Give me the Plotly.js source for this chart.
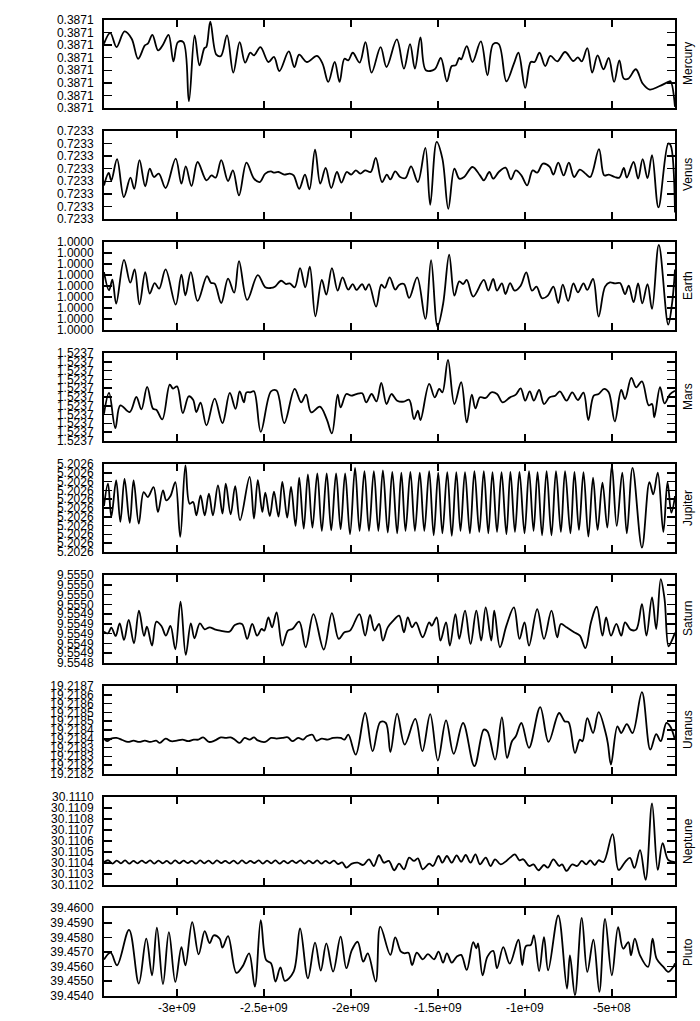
<!DOCTYPE html>
<html>
<head>
<meta charset="utf-8">
<script src="https://cdn.plot.ly/plotly-3.0.1.min.js"></script>
<style>html,body{margin:0;padding:0;background:#fff;}#chart{width:700px;height:1021px;}</style>
</head>
<body>
<div id="chart"></div>
<script>
// Time in Myr (negative = past); deviations of semi-major axis from a base value, in the unit given per planet.
const MERCURY = [[-3419,5.12],[-3383,5.99],[-3347,4.85],[-3301,6.10],[-3260,5.52],[-3223,3.92],[-3184,4.99],[-3167,5.12],[-3141,5.83],[-3108,4.59],[-3080,5.04],[-3048,5.83],[-3020,3.71],[-2994,5.25],[-2963,5.25],[-2931,0.53],[-2898,5.78],[-2870,3.39],[-2842,4.77],[-2831,4.85],[-2808,6.89],[-2773,4.24],[-2747,4.14],[-2712,5.78],[-2676,2.81],[-2639,5.25],[-2608,3.61],[-2578,4.40],[-2557,4.19],[-2520,4.85],[-2474,3.66],[-2442,4.06],[-2411,2.94],[-2357,4.51],[-2325,3.26],[-2297,4.24],[-2253,3.66],[-2195,4.14],[-2163,3.53],[-2130,2.07],[-2093,3.66],[-2065,2.07],[-2037,3.92],[-2015,3.79],[-1989,4.40],[-1950,3.61],[-1916,5.25],[-1881,2.81],[-1829,4.85],[-1795,3.26],[-1736,5.46],[-1695,3.13],[-1660,5.09],[-1632,3.13],[-1600,5.62],[-1569,3.00],[-1518,3.08],[-1483,3.98],[-1448,2.12],[-1420,3.34],[-1398,3.39],[-1377,3.98],[-1366,3.87],[-1334,4.93],[-1301,3.66],[-1253,5.30],[-1215,2.60],[-1182,5.09],[-1150,5.09],[-1106,2.12],[-1063,3.53],[-1037,4.40],[-998,1.59],[-966,3.66],[-944,3.66],[-916,4.40],[-883,3.34],[-853,4.14],[-814,3.71],[-769,4.46],[-721,3.74],[-695,4.03],[-673,3.71],[-641,4.77],[-613,2.81],[-582,4.19],[-548,3.08],[-518,3.98],[-487,2.07],[-457,3.79],[-431,2.33],[-405,2.33],[-362,3.08],[-323,1.94],[-282,1.46],[-228,1.72],[-176,2.07],[-163,2.12],[-137,0.08]];

const VENUS = [[-3419,2.67],[-3392,3.66],[-3377,3.07],[-3344,4.76],[-3305,1.74],[-3267,3.29],[-3245,2.40],[-3215,4.68],[-3182,2.59],[-3156,4.01],[-3132,3.34],[-3104,3.61],[-3065,2.46],[-3007,4.81],[-2974,2.81],[-2949,4.19],[-2916,2.62],[-2881,4.54],[-2830,3.07],[-2801,3.47],[-2777,3.29],[-2745,4.68],[-2706,3.02],[-2678,3.87],[-2643,1.87],[-2600,4.49],[-2557,3.21],[-2524,2.94],[-2492,3.61],[-2459,3.79],[-2444,3.69],[-2416,3.74],[-2383,3.53],[-2351,3.61],[-2329,3.47],[-2297,2.40],[-2264,3.53],[-2238,2.35],[-2206,5.53],[-2176,2.81],[-2145,4.06],[-2113,2.46],[-2080,3.74],[-2054,2.89],[-2024,3.74],[-1998,3.53],[-1972,3.87],[-1946,3.61],[-1918,3.87],[-1886,3.74],[-1857,4.86],[-1821,2.94],[-1793,3.53],[-1773,3.15],[-1745,3.79],[-1717,3.34],[-1686,3.26],[-1654,4.19],[-1615,2.94],[-1572,5.66],[-1544,1.12],[-1507,6.14],[-1474,4.81],[-1440,0.80],[-1405,4.01],[-1377,3.21],[-1349,3.34],[-1301,4.14],[-1258,3.47],[-1236,3.07],[-1204,3.74],[-1182,3.21],[-1150,3.74],[-1111,4.09],[-1080,3.15],[-1052,3.87],[-1020,3.47],[-987,2.67],[-955,3.87],[-929,3.69],[-896,4.41],[-857,4.14],[-836,3.53],[-808,4.49],[-777,3.47],[-747,4.49],[-717,3.34],[-684,3.93],[-652,3.61],[-624,3.34],[-574,5.56],[-544,3.47],[-518,3.53],[-483,3.34],[-457,3.29],[-431,4.06],[-414,3.29],[-375,4.54],[-349,3.21],[-323,4.76],[-295,3.26],[-269,5.08],[-232,0.91],[-176,6.01],[-163,5.9],[-137,0.5]];

const EARTH = [[-3419,5.27],[-3390,3.61],[-3371,4.58],[-3349,2.39],[-3304,6.39],[-3268,4.30],[-3243,5.52],[-3215,2.33],[-3182,5.27],[-3156,3.30],[-3128,4.27],[-3102,3.76],[-3065,5.52],[-3007,2.30],[-2974,5.03],[-2951,3.15],[-2920,5.27],[-2881,2.64],[-2827,4.91],[-2805,4.30],[-2783,4.21],[-2745,2.45],[-2706,4.67],[-2671,3.39],[-2643,6.27],[-2596,2.73],[-2535,5.00],[-2492,3.88],[-2459,3.82],[-2437,3.94],[-2401,4.48],[-2373,4.18],[-2351,4.24],[-2323,3.88],[-2292,5.64],[-2262,3.88],[-2236,5.76],[-2204,1.24],[-2167,4.55],[-2141,3.21],[-2109,5.64],[-2076,3.58],[-2048,4.79],[-2015,3.67],[-1989,4.18],[-1968,3.64],[-1935,4.18],[-1916,3.64],[-1896,4.18],[-1855,2.12],[-1825,4.12],[-1805,3.82],[-1777,4.79],[-1745,3.67],[-1723,4.09],[-1695,4.18],[-1665,2.91],[-1619,4.79],[-1572,1.00],[-1539,6.36],[-1502,0.30],[-1470,2.36],[-1435,6.85],[-1405,3.12],[-1377,4.42],[-1355,4.18],[-1334,4.55],[-1297,3.03],[-1236,4.55],[-1210,3.58],[-1182,4.64],[-1160,3.58],[-1132,4.24],[-1111,3.27],[-1085,4.27],[-1059,3.58],[-1024,4.03],[-992,5.24],[-959,3.58],[-933,3.94],[-901,2.88],[-868,3.12],[-836,3.94],[-808,2.45],[-782,4.12],[-751,2.64],[-721,4.24],[-695,3.42],[-663,4.24],[-641,3.64],[-608,4.64],[-576,1.21],[-539,3.94],[-511,4.33],[-483,4.24],[-453,4.27],[-424,3.27],[-403,4.03],[-375,2.52],[-349,4.24],[-325,2.42],[-295,4.18],[-269,1.91],[-230,7.76],[-176,0.48],[-154,2.4],[-137,5.5]];

const MARS = [[-3419,3.09],[-3390,5.46],[-3354,1.45],[-3325,4.05],[-3271,3.28],[-3233,5.00],[-3204,3.59],[-3171,6.15],[-3137,3.66],[-3118,3.55],[-3084,2.44],[-3041,6.41],[-3022,5.95],[-2999,6.22],[-2966,3.17],[-2932,5.08],[-2907,4.69],[-2888,3.28],[-2864,4.35],[-2830,1.76],[-2783,4.81],[-2738,2.02],[-2696,5.46],[-2663,3.66],[-2639,5.65],[-2615,4.39],[-2600,5.53],[-2578,5.53],[-2557,5.65],[-2518,1.03],[-2459,5.65],[-2427,5.73],[-2383,2.02],[-2323,5.92],[-2286,4.39],[-2258,5.27],[-2228,3.24],[-2178,3.89],[-2139,2.48],[-2109,0.84],[-2076,5.27],[-2059,3.82],[-2026,5.34],[-1998,5.15],[-1968,5.34],[-1935,5.42],[-1912,4.39],[-1881,5.34],[-1853,4.50],[-1825,6.60],[-1795,4.20],[-1767,5.34],[-1734,4.58],[-1695,4.47],[-1665,4.69],[-1637,2.48],[-1615,3.44],[-1600,2.37],[-1550,6.49],[-1518,4.96],[-1492,5.92],[-1474,5.53],[-1442,9.24],[-1405,4.20],[-1366,6.68],[-1334,2.10],[-1305,5.27],[-1284,3.70],[-1258,4.96],[-1225,4.89],[-1193,5.53],[-1160,5.34],[-1128,4.39],[-1085,4.96],[-1052,5.27],[-1024,5.99],[-998,4.58],[-972,5.65],[-948,4.58],[-918,5.80],[-890,4.20],[-857,4.96],[-825,5.15],[-799,5.65],[-760,4.58],[-728,5.53],[-695,4.66],[-663,5.50],[-635,2.37],[-604,5.15],[-576,5.34],[-544,5.92],[-518,5.53],[-483,2.21],[-446,5.80],[-424,4.77],[-388,7.18],[-360,6.11],[-327,6.79],[-288,4.05],[-269,4.20],[-256,2.67],[-223,6.11],[-197,4.27],[-165,5.34],[-137,5.7]];

const JUPITER = [[-3419,5.23],[-3396,7.77],[-3377,3.98],[-3349,8.14],[-3325,3.41],[-3301,8.33],[-3271,3.30],[-3249,8.14],[-3219,3.22],[-3191,6.82],[-3167,6.25],[-3134,7.39],[-3109,4.55],[-3080,7.01],[-3061,5.87],[-3037,6.36],[-3009,7.95],[-2981,1.70],[-2951,9.85],[-2927,5.49],[-2907,5.68],[-2888,4.17],[-2864,6.44],[-2840,4.17],[-2816,6.63],[-2793,4.17],[-2764,7.58],[-2738,4.36],[-2719,7.77],[-2691,4.28],[-2665,7.50],[-2637,3.60],[-2582,8.56],[-2557,3.79],[-2535,8.18],[-2509,4.55],[-2492,6.74],[-2466,4.09],[-2442,6.86],[-2416,4.02],[-2394,7.99],[-2366,3.90],[-2344,7.42],[-2318,2.95],[-2297,8.45],[-2271,2.65],[-2247,8.83],[-2221,2.77],[-2193,8.94],[-2167,2.39],[-2139,8.94],[-2113,2.46],[-2085,8.94],[-2059,2.58],[-2033,8.94],[-2005,2.01],[-1976,9.58],[-1950,2.39],[-1922,9.20],[-1896,2.39],[-1868,9.20],[-1842,2.39],[-1816,9.28],[-1788,2.20],[-1762,9.13],[-1734,2.12],[-1710,9.02],[-1686,2.39],[-1658,9.13],[-1632,2.39],[-1604,9.02],[-1578,2.39],[-1550,9.20],[-1524,1.89],[-1498,9.02],[-1474,2.12],[-1446,9.09],[-1420,1.82],[-1394,9.09],[-1370,2.39],[-1344,9.09],[-1316,2.12],[-1290,9.20],[-1262,2.27],[-1236,9.20],[-1210,2.12],[-1186,9.09],[-1160,2.27],[-1134,9.09],[-1106,2.01],[-1083,9.13],[-1057,2.27],[-1031,9.13],[-1002,2.12],[-976,9.20],[-950,2.39],[-927,9.09],[-901,1.89],[-875,9.20],[-847,1.89],[-821,9.20],[-793,2.27],[-769,9.20],[-738,2.12],[-715,9.13],[-689,2.50],[-663,9.09],[-635,1.74],[-608,8.45],[-582,2.50],[-554,7.88],[-526,2.77],[-500,9.85],[-472,2.95],[-440,9.02],[-414,2.12],[-381,9.58],[-327,0.49],[-284,7.95],[-262,6.55],[-236,9.02],[-204,2.27],[-180,7.95],[-158,4.47],[-137,6.36]];

const SATURN = [[-3419,6.41],[-3396,6.07],[-3377,7.23],[-3352,5.52],[-3329,8.11],[-3304,4.70],[-3277,8.79],[-3247,4.02],[-3218,10.70],[-3189,5.52],[-3172,7.43],[-3143,3.54],[-3118,8.45],[-3089,7.57],[-3063,5.59],[-3037,7.57],[-3009,2.79],[-2979,12.54],[-2949,1.64],[-2920,8.11],[-2899,5.04],[-2868,8.11],[-2840,6.88],[-2812,7.29],[-2783,6.88],[-2751,6.6],[-2697,6.41],[-2667,7.77],[-2626,7.98],[-2596,4.91],[-2567,7.98],[-2539,5.59],[-2513,6.95],[-2498,6.61],[-2474,9.34],[-2453,7.29],[-2427,10.36],[-2394,3.54],[-2362,6.61],[-2336,6.95],[-2297,8.45],[-2260,3.20],[-2215,10.02],[-2156,2.73],[-2109,10.22],[-2070,4.91],[-2037,6.27],[-2005,6.61],[-1951,10.02],[-1918,5.59],[-1890,9.82],[-1864,6.61],[-1838,7.98],[-1816,4.57],[-1788,7.29],[-1756,8.66],[-1723,9.68],[-1695,6.27],[-1673,9.34],[-1648,7.29],[-1626,8.32],[-1587,5.25],[-1550,8.32],[-1535,7.63],[-1507,9.34],[-1485,4.57],[-1453,8.32],[-1431,3.54],[-1399,10.02],[-1377,4.91],[-1344,10.70],[-1312,3.89],[-1279,10.70],[-1251,4.57],[-1225,11.38],[-1193,4.57],[-1176,10.70],[-1143,3.20],[-1106,7.63],[-1063,11.38],[-1031,4.91],[-1002,8.32],[-976,3.54],[-929,11.04],[-890,4.91],[-847,10.70],[-814,5.25],[-793,7.98],[-760,7.29],[-717,6.27],[-684,5.59],[-652,3.00],[-619,8.45],[-587,11.52],[-554,5.59],[-533,9.34],[-505,5.59],[-474,7.98],[-446,5.59],[-424,8.32],[-392,6.82],[-360,6.82],[-327,12.07],[-301,5.59],[-269,13.43],[-245,6.95],[-219,17.18],[-197,13.09],[-174,3.4],[-155,4.6],[-137,6.2]];

const URANUS = [[-3419,20.1],[-3401,18.6],[-3379,20.1],[-3347,20.5],[-3314,19.3],[-3282,18.2],[-3249,18.9],[-3217,18.2],[-3184,18.9],[-3152,18.2],[-3119,18.9],[-3098,17.6],[-3065,20.1],[-3033,18.6],[-3000,18.9],[-2968,19.5],[-2935,18.6],[-2903,19.5],[-2877,19.5],[-2849,20.8],[-2816,18.2],[-2784,18.9],[-2747,20.8],[-2719,20.5],[-2691,20.8],[-2665,19.3],[-2639,17.6],[-2611,20.5],[-2582,19.5],[-2557,20.8],[-2535,19.1],[-2492,18.2],[-2459,20.5],[-2427,20.1],[-2394,20.5],[-2362,20.8],[-2336,18.6],[-2303,20.5],[-2275,19.5],[-2253,21.4],[-2221,22.3],[-2199,18.9],[-2167,20.1],[-2134,19.5],[-2102,20.5],[-2059,20.5],[-2037,19.5],[-2015,22.3],[-1972,11.0],[-1918,34.7],[-1875,12.9],[-1831,29.5],[-1799,29.0],[-1773,12.5],[-1734,34.3],[-1691,16.7],[-1630,31.3],[-1589,12.9],[-1544,34.1],[-1500,7.6],[-1453,30.5],[-1409,11.4],[-1355,29.0],[-1290,4.4],[-1236,25.2],[-1215,24.2],[-1171,8.1],[-1132,32.2],[-1102,9.1],[-1074,18.6],[-1052,21.4],[-1020,29.0],[-976,14.8],[-912,38.1],[-864,18.2],[-803,34.7],[-771,29.9],[-749,29.5],[-712,11.9],[-684,19.5],[-669,18.6],[-641,31.8],[-608,23.3],[-576,35.2],[-533,22.3],[-522,16.7],[-505,5.3],[-468,27.1],[-446,23.3],[-414,28.4],[-381,23.3],[-327,46.6],[-279,13.8],[-245,22.7],[-219,18.6],[-186,29.0],[-165,27.1],[-137,19.5]];

const NEPTUNE = [[-3419,20.8],[-3394,22.4],[-3370,19.3],[-3346,22.1],[-3322,19.6],[-3298,22.4],[-3274,19.3],[-3250,21.8],[-3226,19.6],[-3202,22.1],[-3178,19.9],[-3154,22.4],[-3130,19.3],[-3106,22.1],[-3082,19.6],[-3058,21.8],[-3034,19.3],[-3010,22.4],[-2986,19.6],[-2962,22.1],[-2938,19.9],[-2914,21.8],[-2890,19.3],[-2866,22.4],[-2842,19.6],[-2818,22.1],[-2794,19.3],[-2770,22.4],[-2746,19.9],[-2722,21.8],[-2698,19.6],[-2674,22.1],[-2650,19.3],[-2626,22.4],[-2602,19.6],[-2578,21.8],[-2554,19.9],[-2530,22.4],[-2506,19.3],[-2482,22.1],[-2458,19.6],[-2434,22.4],[-2410,19.3],[-2386,21.8],[-2362,19.6],[-2338,22.1],[-2314,19.9],[-2290,22.4],[-2266,19.3],[-2242,22.1],[-2218,19.6],[-2194,22.4],[-2170,19.3],[-2146,21.8],[-2122,19.6],[-2098,22.1],[-2074,19.0],[-2050,20.5],[-2026,15.7],[-1994,19.3],[-1961,20.2],[-1929,18.1],[-1896,23.3],[-1868,17.2],[-1838,27.2],[-1810,20.2],[-1782,21.8],[-1751,13.3],[-1723,19.3],[-1695,14.2],[-1665,24.8],[-1637,21.8],[-1615,24.2],[-1587,14.2],[-1550,19.3],[-1528,17.2],[-1496,26.3],[-1474,20.2],[-1448,26.3],[-1420,20.2],[-1392,26.9],[-1366,21.1],[-1340,27.2],[-1312,20.2],[-1284,27.8],[-1258,18.7],[-1225,24.8],[-1197,17.2],[-1171,23.3],[-1139,18.7],[-1106,21.8],[-1085,24.8],[-1057,27.8],[-1031,22.4],[-1009,23.3],[-976,17.2],[-950,18.7],[-922,13.3],[-890,18.1],[-868,15.7],[-836,23.3],[-803,17.2],[-786,18.7],[-760,12.7],[-728,18.7],[-699,17.2],[-673,21.8],[-647,18.7],[-624,22.4],[-598,18.1],[-576,22.4],[-548,20.8],[-496,46.2],[-461,13.6],[-424,20.8],[-396,24.5],[-370,15.4],[-338,31.7],[-306,4.5],[-269,74.3],[-236,13.6],[-208,38.1],[-176,22.7],[-137,20.8]];

const PLUTO = [[-3419,24.8],[-3381,29.5],[-3344,20.9],[-3275,45.2],[-3219,8.4],[-3176,39.1],[-3143,14.1],[-3115,46.6],[-3080,8.0],[-3046,43.6],[-3009,9.5],[-2974,33.4],[-2951,20.9],[-2912,50.5],[-2875,28.4],[-2840,44.3],[-2812,36.1],[-2788,41.4],[-2754,39.1],[-2738,33.0],[-2706,40.9],[-2658,15.7],[-2621,20.5],[-2585,29.1],[-2552,6.4],[-2518,51.8],[-2487,24.5],[-2459,22.3],[-2433,9.8],[-2405,19.5],[-2379,10.2],[-2329,16.6],[-2292,46.1],[-2247,12.0],[-2206,36.4],[-2173,17.3],[-2141,35.9],[-2102,16.6],[-2059,40.5],[-2026,18.9],[-1994,31.4],[-1961,37.0],[-1929,23.4],[-1903,29.1],[-1857,9.8],[-1831,47.3],[-1773,28.0],[-1745,40.0],[-1712,30.2],[-1691,29.1],[-1669,29.5],[-1648,21.1],[-1621,29.5],[-1587,25.0],[-1557,28.6],[-1522,25.0],[-1496,30.2],[-1470,22.7],[-1448,29.1],[-1420,22.7],[-1392,26.8],[-1366,28.0],[-1334,17.7],[-1297,36.8],[-1279,32.5],[-1269,35.9],[-1243,14.1],[-1215,26.8],[-1182,30.7],[-1160,18.9],[-1124,33.4],[-1087,22.0],[-1037,38.4],[-1015,21.1],[-994,34.1],[-966,34.8],[-948,41.4],[-918,17.0],[-890,40.2],[-866,17.5],[-808,55.0],[-758,5.0],[-741,27.7],[-712,0.5],[-673,53.4],[-641,16.4],[-606,38.4],[-572,2.7],[-539,52.7],[-500,14.1],[-464,47.0],[-435,32.3],[-405,36.8],[-390,27.7],[-368,39.1],[-338,27.7],[-292,19.8],[-266,39.1],[-243,25.5],[-204,19.8],[-176,16.4],[-147,19.8],[-137,22.3]];

// Tick labels (bottom to top) and x tick labels
const TICKS_MERCURY = ['0.3871','0.3871','0.3871','0.3871','0.3871','0.3871','0.3871','0.3871'];
const TICKS_VENUS   = ['0.7233','0.7233','0.7233','0.7233','0.7233','0.7233','0.7233','0.7233'];
const TICKS_EARTH   = ['1.0000','1.0000','1.0000','1.0000','1.0000','1.0000','1.0000','1.0000','1.0000'];
const TICKS_MARS    = ['1.5237','1.5237','1.5237','1.5237','1.5237','1.5237','1.5237','1.5237','1.5237','1.5237','1.5237'];
const TICKS_JUPITER = ['5.2026','5.2026','5.2026','5.2026','5.2026','5.2026','5.2026','5.2026','5.2026','5.2026','5.2026'];
const TICKS_SATURN  = ['9.5548','9.5549','9.5549','9.5549','9.5549','9.5549','9.5550','9.5550','9.5550','9.5550'];
const TICKS_URANUS  = ['19.2182','19.2182','19.2183','19.2183','19.2184','19.2184','19.2185','19.2185','19.2186','19.2186','19.2187'];
const TICKS_NEPTUNE = ['30.1102','30.1103','30.1104','30.1105','30.1106','30.1107','30.1108','30.1109','30.1110'];
const TICKS_PLUTO   = ['39.4540','39.4550','39.4560','39.4570','39.4580','39.4590','39.4600'];
const X_TICK_VALUES = [-3e9,-2.5e9,-2e9,-1.5e9,-1e9,-5e8];
const X_TICK_LABELS = ['-3e+09','-2.5e+09','-2e+09','-1.5e+09','-1e+09','-5e+08'];
const X_RANGE = [-3.419e9,-0.137e9];

const PLANETS = [
  {name:'Mercury', data:MERCURY, base:0.387098, unit:1e-8, step:1e-8, ticks:TICKS_MERCURY},
  {name:'Venus',   data:VENUS,   base:0.723328, unit:1e-8, step:1e-8, ticks:TICKS_VENUS},
  {name:'Earth',   data:EARTH,   base:1.0,      unit:1e-8, step:1e-8, ticks:TICKS_EARTH},
  {name:'Mars',    data:MARS,    base:1.52371,  unit:1e-8, step:1e-8, ticks:TICKS_MARS},
  {name:'Jupiter', data:JUPITER, base:5.2026,   unit:1e-8, step:1e-8, ticks:TICKS_JUPITER},
  {name:'Saturn',  data:SATURN,  base:9.55484,  unit:1e-5, step:2e-5, ticks:TICKS_SATURN},
  {name:'Uranus',  data:URANUS,  base:19.2182,  unit:1e-5, step:5e-5, ticks:TICKS_URANUS},
  {name:'Neptune', data:NEPTUNE, base:30.1102,  unit:1e-5, step:1e-4, ticks:TICKS_NEPTUNE},
  {name:'Pluto',   data:PLUTO,   base:39.454,   unit:1e-4, step:1e-3, ticks:TICKS_PLUTO}
];

const W = 700, H = 1021, MT = 20, MB = 25, ML = 104, MR = 25;
const PH = 88, PITCH = 111;
const plotH = H - MT - MB;
const FONT = {family:'"Liberation Sans", Arial, Helvetica, sans-serif', size:12, color:'#000'};

const traces = [];
const layout = {
  width: W, height: H,
  margin: {l: ML, r: MR, t: MT, b: MB, pad: 0},
  paper_bgcolor: '#fff', plot_bgcolor: '#fff',
  showlegend: false,
  font: FONT,
  annotations: []
};

PLANETS.forEach((p, i) => {
  const k = i === 0 ? '' : String(i + 1);
  const n = p.ticks.length - 1;
  const top = 1 - (i * PITCH) / plotH;
  const bot = 1 - (i * PITCH + PH) / plotH;
  const yv = p.ticks.map((_, j) => p.base + j * p.step);
  const span = n * p.step;
  traces.push({
    x: p.data.map(d => d[0] * 1e6),
    y: p.data.map(d => p.base + d[1] * p.unit),
    xaxis: 'x' + k, yaxis: 'y' + k,
    type: 'scatter', mode: 'lines',
    line: {color: '#000', width: 1.8, shape: 'spline', smoothing: 1},
    hoverinfo: 'skip'
  });
  layout['xaxis' + k] = {
    domain: [0, 1], anchor: 'y' + k, range: X_RANGE,
    tickmode: 'array', tickvals: X_TICK_VALUES, ticktext: X_TICK_LABELS,
    ticks: 'inside', ticklen: 7, tickwidth: 1.5, tickcolor: '#000',
    showline: true, linecolor: '#000', linewidth: 2, mirror: 'ticks',
    showgrid: false, zeroline: false,
    showticklabels: i === PLANETS.length - 1,
    tickfont: FONT
  };
  if (i > 0) layout['xaxis' + k].matches = 'x';
  layout['yaxis' + k] = {
    domain: [bot, top], anchor: 'x' + k,
    range: [p.base - span * 0.002, p.base + span * 1.002],
    tickmode: 'array', tickvals: yv, ticktext: p.ticks,
    ticks: 'inside', ticklen: 8, tickwidth: 1.5, tickcolor: '#000',
    showline: true, linecolor: '#000', linewidth: 2, mirror: 'ticks',
    showgrid: false, zeroline: false,
    ticklabelstandoff: 6,
    tickfont: FONT
  };
  layout.annotations.push({
    xref: 'paper', yref: 'paper',
    x: (688 - ML) / (W - ML - MR), y: (top + bot) / 2,
    xanchor: 'center', yanchor: 'middle',
    text: p.name, textangle: -90, showarrow: false,
    font: FONT
  });
});

Plotly.newPlot('chart', traces, layout, {displayModeBar: false, staticPlot: true});
</script>
</body>
</html>
